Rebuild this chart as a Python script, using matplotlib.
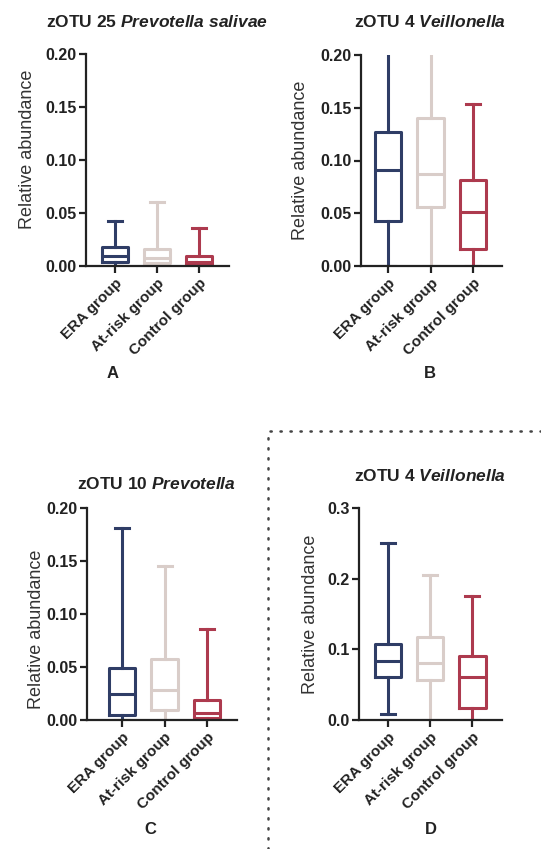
import matplotlib
matplotlib.use("Agg")
import matplotlib.pyplot as plt
import matplotlib.transforms as mtransforms
from matplotlib.lines import Line2D

plt.rcParams['font.family'] = ['Liberation Sans', 'DejaVu Sans']
plt.rcParams['mathtext.fontset'] = 'custom'
plt.rcParams['mathtext.it'] = 'Liberation Sans:style=italic:weight=bold'
plt.rcParams['mathtext.rm'] = 'Liberation Sans:weight=bold'

groups = ["ERA group", "At-risk group", "Control group"]
colors = ["#2f3d66", "#d9cdc9", "#ad3a4e"]

# box stats per panel: [whislo, q1, median, q3, whishi] for ERA / At-risk / Control
box_a = [[0.0, 0.004, 0.0095, 0.018, 0.042],
         [0.0, 0.0025, 0.008, 0.0165, 0.060],
         [0.0, 0.001, 0.004, 0.0095, 0.036]]
# ERA and At-risk whiskers run off the top of the axis in B
box_b = [[0.0, 0.043, 0.091, 0.127, 0.205],
         [0.0, 0.056, 0.087, 0.140, 0.205],
         [0.0, 0.016, 0.051, 0.0815, 0.154]]
box_c = [[0.0, 0.005, 0.025, 0.049, 0.181],
         [0.0, 0.009, 0.028, 0.0575, 0.145],
         [0.0, 0.002, 0.007, 0.019, 0.086]]
box_d = [[0.008, 0.0605, 0.083, 0.108, 0.250],
         [0.0, 0.0565, 0.081, 0.118, 0.205],
         [0.0, 0.0165, 0.061, 0.090, 0.175]]

ticks_02 = [0.0, 0.05, 0.10, 0.15, 0.20]
ticks_03 = [0.0, 0.1, 0.2, 0.3]

W, H = 541, 849
fig = plt.figure(figsize=(W / 100, H / 100), dpi=100)


def px_axes(left, right, top, bottom):
    return fig.add_axes([left / W, (H - bottom) / H, (right - left) / W, (bottom - top) / H])


def draw_panel(ax, stats, yticks, fmt, xlim, ylab_x, ylab_y=0.5, lab_shift=(-5, -6)):
    bstats = []
    for g, s in zip(groups, stats):
        bstats.append(dict(label=g, whislo=s[0], q1=s[1], med=s[2], q3=s[3], whishi=s[4], fliers=[]))
    art = ax.bxp(bstats, positions=[1, 2, 3], widths=0.62, capwidths=0.33,
                 showfliers=False, patch_artist=False)
    for i, c in enumerate(colors):
        art['boxes'][i].set(color=c, linewidth=2.2)
        art['medians'][i].set(color=c, linewidth=2.2)
        for k in (2 * i, 2 * i + 1):
            art['whiskers'][k].set(color=c, linewidth=2.2)
            art['caps'][k].set(color=c, linewidth=2.2)
    ax.set_ylim(0, yticks[-1])
    ax.set_xlim(*xlim)
    ax.set_yticks(yticks)
    ax.set_yticklabels([fmt.format(t) for t in yticks])
    ax.set_xticks([1, 2, 3])
    ax.set_xticklabels(groups, rotation=45, ha='right', rotation_mode='anchor')
    shift = mtransforms.ScaledTranslation(lab_shift[0] / 100, lab_shift[1] / 100, fig.dpi_scale_trans)
    for lab in ax.get_xticklabels():
        lab.set_transform(lab.get_transform() + shift)
        lab.set_fontsize(11)
    for lab in ax.get_yticklabels():
        lab.set_fontsize(11.5)
    for lab in ax.get_xticklabels() + ax.get_yticklabels():
        lab.set_fontweight('bold')
        lab.set_color('#222222')
    ax.spines['top'].set_visible(False)
    ax.spines['right'].set_visible(False)
    for sp in ('left', 'bottom'):
        ax.spines[sp].set_linewidth(1.6)
        ax.spines[sp].set_color('#222222')
    ax.tick_params(axis='both', length=5, width=1.6, color='#222222', pad=2)
    ax.set_ylabel("Relative abundance", fontsize=13, color='#333333')
    ax.yaxis.set_label_coords(ylab_x, ylab_y)


ax_a = px_axes(86, 229, 54, 266)
draw_panel(ax_a, box_a, ticks_02, "{:.2f}", (0.31, 3.71), -0.35, 0.55, (-4, -8))
ax_b = px_axes(361, 502, 55, 266)
draw_panel(ax_b, box_b, ticks_02, "{:.2f}", (0.36, 3.68), -0.37, 0.5, (-4, -8))
ax_c = px_axes(87, 237, 508, 720)
draw_panel(ax_c, box_c, ticks_02, "{:.2f}", (0.18, 3.70), -0.28, 0.43, (-10, 0))
ax_d = px_axes(359, 502, 508, 720)
draw_panel(ax_d, box_d, ticks_03, "{:.1f}", (0.32, 3.70), -0.28, 0.5, (-5, -5))

titles = [(157, 22, r"zOTU 25 $\mathit{Prevotella\ salivae}$"),
          (430, 22, r"zOTU 4 $\mathit{Veillonella}$"),
          (156, 484, r"zOTU 10 $\mathit{Prevotella}$"),
          (430, 476, r"zOTU 4 $\mathit{Veillonella}$")]
for x, y, t in titles:
    fig.text(x / W, 1 - y / H, t, ha='center', va='center', fontsize=12.5,
             fontweight='bold', color='#222222')

for x, y, t in [(113, 374, "A"), (430, 374, "B"), (150, 830, "C"), (431, 830, "D")]:
    fig.text(x / W, 1 - y / H, t, ha='center', va='center', fontsize=12,
             fontweight='bold', color='#222222')

# dotted separator around panel D
sep = Line2D([268 / W, 268 / W, 1.0], [0.0, 1 - 431 / H, 1 - 431 / H],
             transform=fig.transFigure, color='#444444', linewidth=1.8,
             linestyle=(0, (0.5, 3.5)), dash_capstyle='round')
fig.add_artist(sep)

fig.savefig("out.png", dpi=100)
